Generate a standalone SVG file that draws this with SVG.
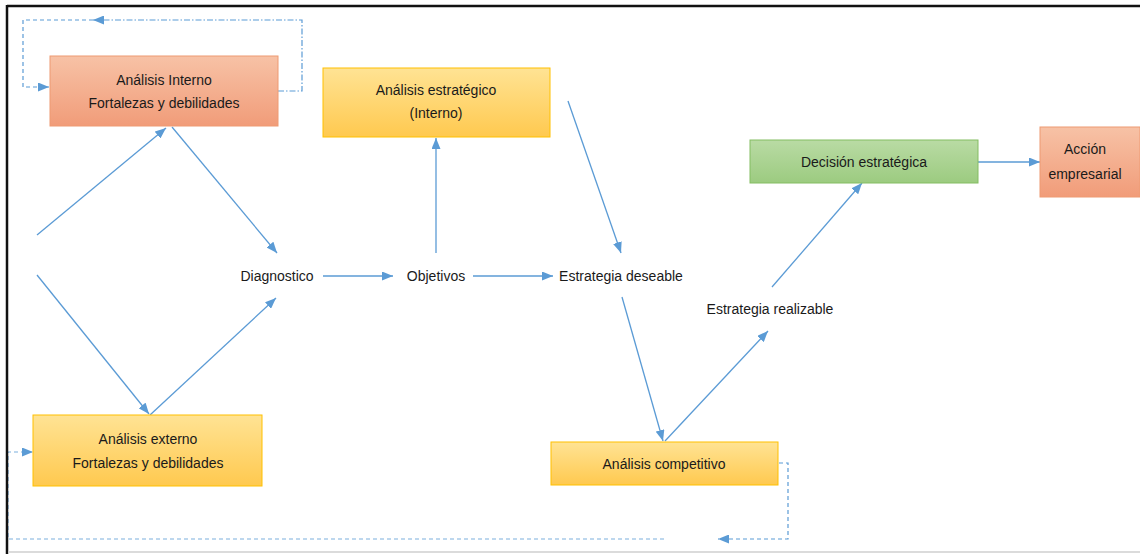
<svg xmlns="http://www.w3.org/2000/svg" width="1140" height="554" viewBox="0 0 1140 554">
<style>
  .t{font-family:"Liberation Sans",Arial,sans-serif;font-size:14px;fill:#1a1a1a;text-anchor:middle;}
  .c{fill:none;stroke:#5B9BD5;stroke-width:1.3;}
  .d{fill:none;stroke:#5B9BD5;stroke-width:1.2;stroke-dasharray:4 3;}
  .dd{fill:none;stroke:#5B9BD5;stroke-width:1.2;stroke-dasharray:6 2 1.5 2;}
  .sal{fill:url(#gs);stroke:#EE9A72;stroke-width:1;}
  .yel{fill:url(#gy);stroke:#FFC000;stroke-width:1;}
  .grn{fill:url(#gg);stroke:#84BD62;stroke-width:1;}
</style>
<defs>
  <linearGradient id="gs" x1="0" y1="0" x2="0" y2="1"><stop offset="0" stop-color="#F7C2A6"/><stop offset="1" stop-color="#F19C79"/></linearGradient>
  <linearGradient id="gy" x1="0" y1="0" x2="0" y2="1"><stop offset="0" stop-color="#FFE394"/><stop offset="1" stop-color="#FFC94F"/></linearGradient>
  <linearGradient id="gg" x1="0" y1="0" x2="0" y2="1"><stop offset="0" stop-color="#B9DBA4"/><stop offset="1" stop-color="#9CCB80"/></linearGradient>
  <marker id="ah" markerWidth="11" markerHeight="9" refX="11" refY="4.5" orient="auto" markerUnits="userSpaceOnUse"><path d="M0,0 L11,4.5 L0,9 z" fill="#5B9BD5"/></marker>
</defs>
<rect x="0" y="0" width="1140" height="554" fill="#fff"/>

<g id="connectors">
  <path class="c" d="M37,235 L166,128" marker-end="url(#ah)"/>
  <path class="c" d="M172,127 L277,253" marker-end="url(#ah)"/>
  <path class="c" d="M37,275 L149,414" marker-end="url(#ah)"/>
  <path class="c" d="M150,415 L276,298" marker-end="url(#ah)"/>
  <path class="c" d="M323,276 L393,276" marker-end="url(#ah)"/>
  <path class="c" d="M473,276 L553,276" marker-end="url(#ah)"/>
  <path class="c" d="M436,253 L436,138" marker-end="url(#ah)"/>
  <path class="c" d="M568,101 L621,253" marker-end="url(#ah)"/>
  <path class="c" d="M622,297 L663,441" marker-end="url(#ah)"/>
  <path class="c" d="M665,441 L768,331" marker-end="url(#ah)"/>
  <path class="c" d="M772,287 L862,183" marker-end="url(#ah)"/>
  <path class="c" d="M978,162 L1040,162" marker-end="url(#ah)"/>
  <path class="dd" d="M278,91 L302,91 L302,20 L93,20" marker-end="url(#ah)"/>
  <path class="d" d="M93,20 L23,20 L23,87 L49,87" marker-end="url(#ah)"/>
  <path class="d" d="M779,463 L788,463 L788,539 L718,539" marker-end="url(#ah)"/>
  <path class="d" d="M664,539 L8,539 L8,452 L33,452" marker-end="url(#ah)" stroke-opacity="0.8"/>
</g>

<line x1="7" y1="6" x2="1140" y2="6" stroke="#111" stroke-width="2.5"/>
<line x1="7" y1="5" x2="7" y2="554" stroke="#111" stroke-width="2.5"/>
<line x1="8" y1="552" x2="1140" y2="552" stroke="#cfcfcf" stroke-width="1.5"/>

<g id="analisis-interno">
  <rect class="sal" x="50" y="56" width="228" height="70"/>
  <text class="t" x="164" y="85">Análisis Interno</text>
  <text class="t" x="164" y="108">Fortalezas y debilidades</text>
</g>
<g id="analisis-estrategico">
  <rect class="yel" x="323" y="68" width="227" height="69"/>
  <text class="t" x="436" y="95">Análisis  estratégico</text>
  <text class="t" x="436" y="118">(Interno)</text>
</g>
<g id="decision-estrategica">
  <rect class="grn" x="750" y="140" width="228" height="43"/>
  <text class="t" x="864" y="167">Decisión estratégica</text>
</g>
<g id="accion-empresarial">
  <rect class="sal" x="1040" y="127" width="100" height="70"/>
  <text class="t" x="1085" y="154">Acción</text>
  <text class="t" x="1085" y="179">empresarial</text>
</g>
<g id="analisis-externo">
  <rect class="yel" x="33" y="415" width="229" height="71"/>
  <text class="t" x="148" y="444">Análisis externo</text>
  <text class="t" x="148" y="468">Fortalezas y debilidades</text>
</g>
<g id="analisis-competitivo">
  <rect class="yel" x="551" y="442" width="227" height="43"/>
  <text class="t" x="664" y="469">Análisis  competitivo</text>
</g>
<g id="diagnostico"><text class="t" x="277" y="281">Diagnostico</text></g>
<g id="objetivos"><text class="t" x="436" y="281">Objetivos</text></g>
<g id="estrategia-deseable"><text class="t" x="621" y="281">Estrategia deseable</text></g>
<g id="estrategia-realizable"><text class="t" x="770" y="314">Estrategia realizable</text></g>
</svg>
